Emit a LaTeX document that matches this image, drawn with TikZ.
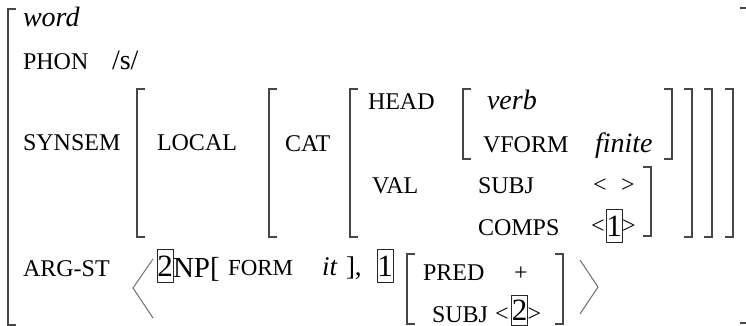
\documentclass[tikz,border=0pt]{standalone}
\usepackage{fontspec}
\setmainfont{Liberation Serif}
\begin{document}
\begin{tikzpicture}[x=1pt,y=-1pt,
  every node/.style={inner sep=0pt, outer sep=0pt, text=black},
  lbl/.style={anchor=base west, font=\fontsize{24}{24}\selectfont},
  typ/.style={anchor=base west, font=\fontsize{28}{28}\selectfont\itshape},
  tagbox/.style={draw=black!85, line width=0.9pt, minimum width=16pt, minimum height=33pt,
                 font=\fontsize{31}{31}\selectfont},
  brk/.style={draw=black!72, line width=1.3pt},
  angl/.style={draw=black!55, line width=1pt}]
\useasboundingbox (0,0) rectangle (746,326);

% left / right bracket helpers: (x, top, bottom)
\def\lbr#1#2#3{\draw[brk] (#1+8,#2) -- (#1,#2) -- (#1,#3) -- (#1+8,#3);}
\def\rbr#1#2#3{\draw[brk] (#1-8,#2) -- (#1,#2) -- (#1,#3) -- (#1-8,#3);}

% word
\lbr{8}{9}{325}
\rbr{748}{8}{323}
% SYNSEM value
\lbr{137}{89}{237}
\rbr{733}{89}{237}
% LOCAL value
\lbr{269}{89}{237}
\rbr{712}{89}{237}
% CAT value
\lbr{350}{89}{237}
\rbr{692}{89}{237}
% HEAD value
\lbr{463}{89}{159}
\rbr{672}{89}{159}
% VAL value
\rbr{651}{167}{236}
% second ARG-ST element
\lbr{407}{254}{324}
\rbr{563}{254}{324}

% word
\node[typ] (word) at (23,27) {word};
\node[lbl] (phon) at (23,70) {PHON};
\node[anchor=base west, font=\fontsize{28}{28}\selectfont] (phonv) at (112,70) {/s/};
\node[lbl] (synsem) at (23,150) {SYNSEM};
\node[lbl] (local) at (157,150) {LOCAL};
\node[lbl] (cat) at (285,151) {CAT};
\node[lbl] (head) at (368,110) {HEAD};
\node[typ] (verb) at (487,110) {verb};
\node[lbl] (vform) at (483,152) {VFORM};
\node[typ] (finite) at (595,152) {finite};
\node[lbl] (val) at (372,193) {VAL};
\node[lbl] (subj) at (478,193) {SUBJ};
\node[lbl] (sl) at (593,192) {<};
\node[lbl] (sr) at (621,192) {>};
\node[lbl] (comps) at (478,235) {COMPS};
\node[lbl] (cl) at (591,233) {<};
\node[tagbox] (c1) at (614,226) {1};
\node[lbl] (cr) at (c1.east |- 0,233) {>};

% ARG-ST
\node[lbl] (argst) at (23,276) {ARG-ST};
\coordinate (la1) at (153,259);
\coordinate (la2) at (133,288);
\coordinate (la3) at (153,318);
\draw[angl] (la1) -- (la2) -- (la3);
\node[tagbox] (t2) at (165,266) {2};
\node[anchor=base west, font=\fontsize{29}{29}\selectfont] (np) at (t2.east |- 0,277) {NP[};
\node[anchor=base west, font=\fontsize{23}{23}\selectfont] (form) at (228,275) {FORM};
\node[typ, font=\fontsize{27}{27}\selectfont\itshape] (it) at (322,275) {it};
\node[anchor=base west, font=\fontsize{27}{27}\selectfont] (close) at (346,275) {],};
\node[tagbox] (t1) at (385,266) {1};
\node[lbl] (pred) at (423,280) {PRED};
\node[lbl] (plus) at (514,280) {+};
\node[lbl] (subj2) at (432,322) {SUBJ};
\node[lbl] (sl2) at (495,321) {<};
\node[tagbox, minimum height=30pt] (s2) at (519.5,310.5) {2};
\node[lbl] (sr2) at (s2.east |- 0,321) {>};
\coordinate (ra1) at (580,260);
\coordinate (ra2) at (598,287);
\coordinate (ra3) at (580,314);
\draw[angl] (ra1) -- (ra2) -- (ra3);
\end{tikzpicture}
\end{document}
